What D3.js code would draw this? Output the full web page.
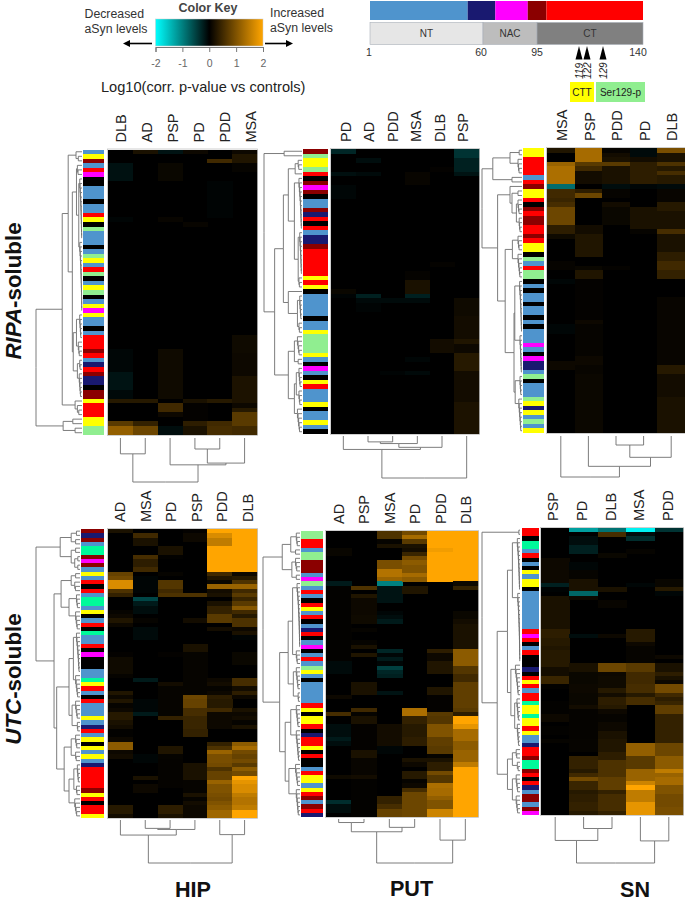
<!DOCTYPE html>
<html><head><meta charset="utf-8">
<script src="https://cdn.jsdelivr.net/npm/d3@7"></script>
<style>html,body{margin:0;padding:0;background:#fff}svg{display:block}text{font-family:"Liberation Sans",Arial,sans-serif}</style>
</head><body><svg id="c" width="685" height="902"></svg>
<script>
// ---------- data ----------
const keyTicks = [-2,-1,0,1,2];
const domainTop = [[1,52,"#4f94cd"],[52,68,"#191970"],[68,89,"#ff00ff"],[89,99,"#8b0000"],[99,140,"#ff0000"]];
const domainBottom = [[1,60,"NT","#e6e6e6"],[60,95,"NAC","#bdbdbd"],[95,140,"CT","#808080"]];
const domainTicks = [1,60,95,140];
const sites = [119,122,129];
const sideColors = {b:"#4f94cd",n:"#191970",m:"#ff00ff",d:"#8b0000",r:"#ff0000",y:"#ffff00",g:"#90ee90",k:"#000000",s:"#00fa9a"};

// sidebar: one category letter per row
const ripaHipSide = "b y d b r m k k b b b k b b r y k g b b b k b g y b r g k b y g k b y m y b b k b r r r d r b n r d n n k d d y r r r y y g g".split(" ");
const ripaPutSide = "d g y y g r k d m d k b b d n r k r b n n d r r r r r r y r y k b b b b b k b b y g g g g y b k m b k y r b b b y k b b y b k".split(" ");
const ripaSnSide  = "y y r r r r b r d y y r k d r d d r r d r y y k g b r g g k b k b b k b b k b k b b b m b k m n n b g k b b b g y n y b g b y".split(" ");
const utcHipSide  = "d n d b s s d m d b y b r k r b s s b y k b r k s b b r k m k k k b b s y r b k r b b b y b n r b y k y b y b n r r r r r d y r k r r y".split(" ");
const utcPutSide  = "g g r r b g g d d d b m g b r b k r y b r k b n r k b m k b r b g y b k b b b b b r y k y y r k n r r y k r k k b r y y b y r d b d r n".split(" ");
const utcSnSide   = "r r k s s b r k b k y b y y k b b b b b b b b b r m r k b r k k k n k r y r b r r s y y s y y r y b b n r r d s s d r k r n b d d b d m".split(" ");

// heat values: one list per column, entries [firstRow, lastRow, value]; rows not listed are 0
const ripaHipCols = ["DLB","AD","PSP","PD","PDD","MSA"];
const ripaHipVals = [
 [[3,6,-.13],[15,15,-.04],[44,49,-.05],[49,52,-.15],[53,54,-.07],[55,55,.3],[60,60,.7],[61,62,1.15]],
 [[0,0,.2],[55,55,.3],[60,60,.4],[61,62,.85]],
 [[0,0,-.15],[3,6,.08],[15,15,.06],[44,54,.12],[56,57,.5],[58,58,.1],[61,62,-.1]],
 [[0,0,.1],[16,16,.06],[56,59,.03],[55,55,.2],[60,60,.35],[61,62,.2]],
 [[2,2,.5],[7,14,-.03],[55,55,.3],[60,60,.5],[61,62,.55]],
 [[0,0,.1],[1,2,.25],[3,4,.05],[41,44,.12],[45,49,.1],[50,55,.22],[56,56,.1],[57,57,.3],[58,60,.7],[61,62,.5]]];
const ripaPutCols = ["PD","AD","PDD","MSA","DLB","PSP"];
const ripaPutVals = [
 [[0,0,-.3],[5,5,-.12],[8,10,-.05],[31,31,.08],[32,32,-.03]],
 [[2,2,-.1],[5,5,-.08],[32,32,-.25],[33,33,-.07],[34,35,-.03]],
 [[33,33,-.08],[49,49,-.03]],
 [[5,7,.06],[27,28,.04],[29,31,.2],[32,32,-.25],[33,33,-.08],[46,46,-.05],[49,49,-.07]],
 [[4,4,.03],[25,25,.04],[42,44,.15]],
 [[0,1,-.4],[2,4,-.25],[5,5,-.15],[33,36,.12],[37,41,.15],[42,42,.25],[43,44,.1],[45,48,.3],[49,55,.15],[56,62,.22]]];
const ripaSnCols = ["MSA","PSP","PDD","PD","DLB"];
const ripaSnVals = [
 [[0,0,.25],[3,3,1.2],[4,7,1.35],[8,8,-.85],[9,10,.5],[11,11,.45],[12,12,.55],[13,16,.85],[17,18,.35],[19,19,.12],[25,26,.05],[29,29,-.05],[39,40,-.05],[47,48,.1]],
 [[0,2,1.3],[3,3,.7],[4,4,.5],[5,7,.15],[9,9,.35],[10,10,.85],[17,18,.15],[19,23,.25],[26,26,.08],[27,28,.25],[29,37,.03],[38,38,.1],[39,45,.05],[46,47,.1],[48,49,.06],[50,62,.09]],
 [[0,0,.05],[1,1,.15],[2,2,.2],[3,3,.7],[4,7,.2],[8,8,-.1],[9,10,.05],[12,12,.15],[13,16,.08],[26,26,.04]],
 [[0,1,-.08],[2,2,.15],[3,7,.35],[8,8,-.05],[13,17,.2],[18,18,.05]],
 [[0,0,.95],[1,2,.2],[3,3,.6],[4,4,.3],[5,5,.55],[6,7,.3],[8,8,-.08],[9,11,.06],[12,13,.3],[14,16,.2],[17,17,.2],[18,18,.55],[19,22,.2],[23,24,.35],[25,26,.5],[27,28,.4],[33,47,.06],[48,49,.3],[50,54,.15],[55,62,.2]]];
const utcHipCols = ["AD","MSA","PD","PSP","PDD","DLB"];
const utcHipVals = [
 [[0,0,.2],[10,10,.8],[11,11,.9],[12,13,1.7],[14,14,.6],[15,15,.4],[19,19,.05],[20,20,.1],[21,21,.25],[22,22,.1],[29,29,.03],[30,33,.12],[34,34,.05],[38,38,.25],[39,39,.1],[40,40,.25],[41,41,.05],[42,42,.1],[43,44,.3],[45,45,.2],[46,46,.15],[47,48,.02],[49,49,.1],[50,51,1.1],[52,52,.1],[53,53,.15],[65,66,.3],[67,67,.15]],
 [[1,1,.5],[2,3,.2],[6,6,.55],[7,8,.35],[9,9,.5],[11,14,-.04],[16,16,-.55],[17,17,-.2],[18,19,-.1],[21,21,.05],[23,25,-.08],[35,35,-.2],[40,42,-.05],[43,43,-.2],[53,54,-.05],[58,58,.2],[60,61,.1]],
 [[4,5,.2],[6,6,.02],[10,10,.05],[12,13,.65],[14,14,.5],[15,15,.6],[29,29,.03],[36,36,.15],[37,43,.05],[44,44,.4],[51,52,.25],[53,53,.05],[54,60,.04],[65,66,.35],[67,67,.2]],
 [[0,0,.03],[1,2,.1],[15,15,.6],[21,21,.15],[27,28,.2],[29,38,.05],[39,39,.85],[40,41,.8],[42,43,.55],[44,46,.45],[47,48,.4],[55,58,.2],[59,61,.05],[62,62,.2],[63,63,.05],[64,64,.15],[65,67,.1]],
 [[0,0,2],[1,1,1.7],[2,3,1.5],[4,9,2],[10,10,.5],[11,11,.25],[12,12,.08],[13,13,1.2],[14,14,.15],[15,15,.2],[17,17,.2],[18,19,.4],[20,21,.7],[23,23,.15],[35,35,.1],[36,36,.15],[37,37,.05],[38,38,.1],[39,39,.35],[40,41,.3],[42,42,.5],[43,46,.1],[50,50,.4],[51,51,.6],[52,52,1.2],[53,54,.95],[55,55,.9],[56,56,.6],[57,58,.8],[59,59,1.2],[60,61,1],[62,62,.95],[63,63,.9],[64,64,1],[65,65,1.1],[66,67,1.25]],
 [[0,9,2],[10,10,.1],[11,11,.3],[12,12,.6],[13,13,1.2],[14,14,.5],[15,15,.7],[16,16,.45],[17,17,.7],[18,18,1.05],[19,19,.5],[20,20,.3],[21,22,.6],[23,23,.1],[24,24,.2],[25,25,-.03],[29,31,.08],[35,36,.55],[37,37,.15],[38,38,.35],[39,39,.1],[42,42,.2],[43,43,.1],[44,44,.15],[45,45,.05],[46,46,.2],[50,50,1.1],[51,51,1.3],[52,52,.9],[53,53,.8],[54,54,.9],[55,55,.7],[56,56,1.1],[57,57,.9],[58,58,2],[59,59,1.8],[60,61,1.7],[62,62,1.5],[63,64,1.4],[65,65,1.5],[66,67,2]]];
const utcPutCols = ["AD","PSP","MSA","PD","PDD","DLB"];
const utcPutVals = [
 [[4,5,.07],[12,12,-.2],[13,30,.02],[31,33,-.08],[39,39,.1],[43,43,.55],[46,48,-.1],[49,49,-.2],[50,50,-.1],[58,58,.12],[64,64,-.35],[65,66,-.1]],
 [[13,13,.6],[15,15,.25],[16,19,.1],[20,21,.12],[23,23,.05],[26,26,.05],[27,27,.2],[29,29,.25],[36,38,.2],[42,42,.5],[43,43,.05],[44,45,.2],[46,51,.03],[52,53,.2],[54,57,.06],[58,58,.15],[59,67,.02]],
 [[0,1,.6],[2,2,.05],[3,3,.2],[7,8,.95],[9,10,1.4],[11,11,1.2],[12,12,-1],[13,16,-.15],[19,19,-.05],[20,20,-.1],[21,21,-.2],[28,28,-.3],[29,29,-.05],[30,30,-.2],[31,31,-.05],[32,32,-.5],[33,33,-.3],[34,34,-.25],[38,38,-.15],[46,50,.15],[51,52,-.05],[63,64,.4],[65,65,.55],[66,67,.8]],
 [[0,0,.9],[1,1,1.3],[2,2,.7],[3,3,.2],[4,4,.15],[5,5,.45],[6,6,.9],[7,7,1.1],[8,9,1],[10,10,1.3],[11,11,1.1],[13,14,.25],[42,43,1.35],[44,45,.4],[46,48,.3],[49,50,.35],[54,54,.2],[55,55,.1],[57,58,.3],[59,59,.05],[60,60,.1],[61,61,.55],[62,67,.85]],
 [[0,3,2],[4,4,1.9],[5,11,2],[28,28,.35],[29,30,.1],[31,33,.25],[37,38,.25],[39,42,.03],[43,43,.7],[44,45,.65],[46,48,1],[49,50,.75],[51,52,.7],[53,53,.05],[54,54,.2],[55,56,.35],[57,57,.9],[58,59,.65],[60,60,1.35],[61,62,1.3],[63,63,1.15],[64,65,1],[66,67,1.6]],
 [[0,11,2],[12,12,.1],[13,13,.4],[19,20,.08],[21,21,.15],[22,27,.2],[28,31,1.1],[32,33,.65],[34,35,.5],[36,41,.75],[42,42,.7],[43,43,.35],[44,45,2],[46,46,1.8],[47,49,1.3],[50,51,1.1],[52,54,1.2],[55,55,1.5],[56,67,2]]];
const utcSnCols = ["PSP","PD","DLB","MSA","PDD"];
const utcSnVals = [
 [[7,12,.1],[13,13,-.25],[14,14,-.02],[16,23,.2],[24,25,.35],[26,27,.3],[28,28,.25],[29,32,.3],[33,34,.15],[35,36,.45],[37,37,.02],[41,43,.02],[44,45,.1],[47,48,.02],[50,50,.05]],
 [[0,0,-1.25],[2,3,-.1],[4,5,-.25],[8,9,-.05],[10,11,.05],[12,14,.2],[15,15,-.8],[16,16,.1],[25,25,-.1],[32,33,.2],[34,36,.08],[37,38,.1],[39,41,.08],[42,42,.15],[43,49,.04],[50,52,.05],[54,56,.4],[57,57,.3],[58,58,.5],[59,59,.9],[60,61,.45],[62,62,.3],[63,64,.35],[65,66,.4],[67,67,.3]],
 [[0,0,-.9],[1,1,.55],[6,6,.08],[14,14,.2],[17,18,.06],[25,25,.1],[32,33,.85],[34,34,.1],[35,37,.12],[38,38,.3],[39,39,.15],[40,41,.35],[42,42,.3],[43,43,.1],[44,45,.05],[46,47,.1],[48,49,.2],[50,52,.25],[53,54,.35],[55,58,.6],[59,61,.75],[62,62,.4],[63,66,.55],[67,67,.4]],
 [[0,0,-1.9],[1,1,-.1],[2,2,-.35],[5,5,.05],[13,13,-.05],[24,26,.3],[27,27,.1],[28,31,.05],[32,33,.7],[34,36,.5],[37,38,.55],[39,39,.3],[40,41,.55],[51,53,1.15],[54,56,.7],[57,59,1.2],[60,60,1.6],[61,61,2],[62,64,1.5],[65,67,1.8]],
 [[0,0,-.4],[12,13,.07],[14,14,.3],[15,15,-.05],[30,30,.1],[32,33,.2],[34,34,.35],[35,35,.2],[36,36,.1],[37,38,.9],[39,39,.5],[40,40,.35],[41,41,.45],[42,43,.75],[44,50,.4],[51,53,.85],[54,56,1.1],[57,57,1.5],[58,58,1.2],[59,60,1.3],[61,62,1],[63,65,.9],[66,67,.95]]];

// dendrograms: [height, child, child...]; a child number n is n adjacent rows, column trees use column indexes as strings
const ripaHipColTree = [1,[.36,"0","1"],[.61,"2",[.57,[.25,"3","4"],"5"]]];
const ripaPutColTree = [1,[.32,"0",[.27,[.18,[.14,"1","2"],"3"],"4"]],"5"];
const ripaSnColTree  = [1,"0",[.74,"1",[.52,[.22,"2","3"],"4"]]];
const utcHipColTree  = [1,[.35,"0",[.22,[.195,"1","2"],"3"]],[.34,"4","5"]];
const utcPutColTree  = [1,[.29,[.08,"0","1"],[.19,"2","3"]],[.48,"4","5"]];
const utcSnColTree   = [1,[.51,"0",[.25,"1","2"]],[.52,"3","4"]];

const ripaHipRowTree = [1,[.43,[.3,[.13,1,[.08,2]],[.21,[.12,[.1,3],[.07,14,16]],[.19,[.12,[.05,6],[.08,4]],[.1,[.05,3],[.06,6]]]]],[.15,1,[.1,1,2]]],[.41,[.2,2],[.15,2]]];
const ripaPutRowTree = [1,[.47,1,1],[.72,[.49,[.36,[.18,[.1,3],1],[.2,[.08,12],[.1,[.06,10],[.08,3]]]],[.36,1,[.12,[.06,6],[.08,3]]]],[.36,[.2,[.12,5],[.1,2]],[.2,[.15,[.08,5],[.08,4]],[.12,6]]]]];
const ripaSnRowTree  = [1,[.73,[.3,2,[.1,4]],[.25,2]],[.61,[.3,1,[.25,[.1,2],[.14,[.1,4],[.07,4]]]],[.42,[.24,[.1,4],[.1,6]],[.2,[.18,[.06,12],[.05,9]],[.17,[.05,5],[.08,8]]]]]];
const utcHipRowTree  = [1,[.45,[.2,[.08,2],[.1,2]],[.2,[.1,2],[.12,[.05,2],[.05,2]]]],[.59,[.43,[.2,[.1,2],[.12,3]],[.25,[.08,4],[.1,5]]],[.53,[.25,[.15,[.08,10],[.1,6]],[.18,[.1,5],[.06,3]]],[.36,[.2,[.1,4],[.1,3]],[.25,[.14,[.06,5],[.08,3]],[.12,5]]]]]];
const utcPutRowTree  = [1,[.48,[.25,[.1,4],[.12,2]],[.22,[.12,4],[.1,2]]],[.55,[.32,[.2,[.08,16],[.1,4]],[.18,[.1,6],[.05,3]]],[.4,[.25,[.1,6],[.1,8]],[.3,[.12,6],[.1,7]]]]];
const utcSnRowTree   = [1,[.03,2],[.6,[.33,[.2,[.07,13],[.06,17]],[.24,[.12,8],[.14,[.08,6],[.07,6]]]],[.33,[.2,[.1,3],[.07,1,2]],[.2,[.1,5],[.1,5]]]]];

// ---------- layout ----------
const panels = [
 {cols:ripaHipCols,vals:ripaHipVals,side:ripaHipSide,colTree:ripaHipColTree,rowTree:ripaHipRowTree,x0:108,x1:257,y0:149.5,y1:435,sx0:83,sx1:104,dx0:36,dx1:82,cy0:438,cy1:482,lx:[126,256]},
 {cols:ripaPutCols,vals:ripaPutVals,side:ripaPutSide,colTree:ripaPutColTree,rowTree:ripaPutRowTree,x0:331,x1:479,y0:149,y1:434,sx0:303,sx1:328,dx0:264,dx1:302,cy0:436,cy1:478,lx:[351,468]},
 {cols:ripaSnCols,vals:ripaSnVals,side:ripaSnSide,colTree:ripaSnColTree,rowTree:ripaSnRowTree,x0:547,x1:685,y0:148,y1:433,sx0:523,sx1:544,dx0:482,dx1:522,cy0:436,cy1:477,lx:[567,677]},
 {cols:utcHipCols,vals:utcHipVals,side:utcHipSide,colTree:utcHipColTree,rowTree:utcHipRowTree,x0:108,x1:257,y0:529,y1:818,sx0:81,sx1:104,dx0:36,dx1:80,cy0:820,cy1:863,lx:[125,253]},
 {cols:utcPutCols,vals:utcPutVals,side:utcPutSide,colTree:utcPutColTree,rowTree:utcPutRowTree,x0:326,x1:478,y0:531,y1:817,sx0:301,sx1:323,dx0:263,dx1:300,cy0:819,cy1:863,lx:[344,471]},
 {cols:utcSnCols,vals:utcSnVals,side:utcSnSide,colTree:utcSnColTree,rowTree:utcSnRowTree,x0:541,x1:683,y0:528,y1:815,sx0:522,sx1:539,dx0:482,dx1:520,cy0:817,cy1:863,lx:[558,673]}
];

const svg = d3.select("#c");
const heatColor = d3.scaleLinear().domain([-2,0,2]).range(["#00ffff","#000000","#ffa500"]);

function comb(n,h){ return n===1 ? 1 : [h,1,comb(n-1,h*.86)]; }
function toNode(t,parentH){
  if(typeof t==="string") return {h:0,col:+t,children:null};
  if(typeof t==="number"){
    if(t===1) return {h:0,children:null};
    return toNode(comb(t,Math.min(parentH*.7,.07)),parentH);
  }
  const h=t[0], kids=t.slice(1);
  if(kids.length===1) return toNode(comb(kids[0],h),parentH);
  return {h,children:kids.map(k=>toNode(k,h))};
}
function elbowPaths(root,leafPos,heightPos,horizontal,g){
  let i=0;
  root.eachAfter(n=>{
    if(!n.children){ n.p = leafPos(n.data.col!==undefined?n.data.col:i); i++; }
    else n.p = d3.mean(n.children,c=>c.p);
  });
  const path=d3.path();
  root.each(n=>{
    if(!n.children) return;
    n.children.forEach(c=>{
      if(horizontal){ path.moveTo(heightPos(c.data.h),c.p); path.lineTo(heightPos(n.data.h),c.p); path.lineTo(heightPos(n.data.h),n.p);}
      else { path.moveTo(c.p,heightPos(c.data.h)); path.lineTo(c.p,heightPos(n.data.h)); path.lineTo(n.p,heightPos(n.data.h)); }
    });
  });
  g.append("path").attr("d",path.toString()).attr("fill","none").attr("stroke","#6e6e6e").attr("stroke-width",.9);
}

panels.forEach(p=>{
  const rows=p.side.length;
  const g=svg.append("g");
  const xS=d3.scaleBand().domain(d3.range(p.cols.length)).range([p.x0,p.x1]);
  const yS=d3.scaleBand().domain(d3.range(rows)).range([p.y0,p.y1]);
  const cells=g.append("g").attr("shape-rendering","crispEdges");
  cells.append("g").selectAll("rect").data(p.cols).join("rect")
    .attr("x",(d,i)=>xS(i)).attr("y",p.y0).attr("width",xS.bandwidth()+.5).attr("height",p.y1-p.y0)
    .attr("fill",heatColor(0));
  p.vals.forEach((col,ci)=>{
    cells.append("g").selectAll("rect").data(col).join("rect")
      .attr("x",xS(ci)).attr("y",d=>yS(d[0])).attr("width",xS.bandwidth()+.5)
      .attr("height",d=>yS(d[1])-yS(d[0])+yS.bandwidth()+.2).attr("fill",d=>heatColor(d[2]));
  });
  g.append("rect").attr("x",p.x0-.5).attr("y",p.y0-.5).attr("width",p.x1-p.x0+1).attr("height",p.y1-p.y0+1)
    .attr("fill","none").attr("stroke","#c4c4c4").attr("stroke-width",.8);
  // sidebar
  g.append("g").attr("shape-rendering","crispEdges").selectAll("rect").data(p.side).join("rect")
    .attr("x",p.sx0).attr("width",p.sx1-p.sx0).attr("y",(d,i)=>yS(i)).attr("height",yS.bandwidth()+.2)
    .attr("fill",d=>sideColors[d]);
  // column labels
  const lS=d3.scalePoint().domain(d3.range(p.cols.length)).range(p.lx);
  g.append("g").selectAll("text").data(p.cols).join("text")
    .attr("transform",(d,i)=>`translate(${lS(i)},${p.y0-7}) rotate(-90)`)
    .attr("font-size",14.5).attr("fill","#222").text(d=>d);
  // row dendrogram
  const rowRoot=d3.hierarchy(toNode(p.rowTree,1));
  const leaves=rowRoot.leaves().length;
  const rowLeaf=d3.scaleLinear().domain([0,leaves]).range([p.y0,p.y1]);
  elbowPaths(rowRoot,i=>rowLeaf(i+.5),d3.scaleLinear().domain([0,1]).range([p.dx1,p.dx0]),true,g);
  // column dendrogram
  const colRoot=d3.hierarchy(toNode(p.colTree,1));
  elbowPaths(colRoot,i=>xS(i)+xS.bandwidth()/2,d3.scaleLinear().domain([0,1]).range([p.cy0,p.cy1]),false,g);
});

// ---------- colour key ----------
const keyX=d3.scaleLinear().domain([-2,2]).range([155.5,263]);
const defs=svg.append("defs");
const grad=defs.append("linearGradient").attr("id","kg");
[-2,0,2].forEach(v=>grad.append("stop").attr("offset",(v+2)/4).attr("stop-color",heatColor(v)));
svg.append("rect").attr("x",155.5).attr("y",19).attr("width",107.5).attr("height",27).attr("fill","url(#kg)").attr("stroke","#ccc").attr("stroke-width",.5);
const keyAxis=svg.append("g").attr("transform","translate(0,47)")
  .call(d3.axisBottom(keyX).tickValues(keyTicks).tickFormat(d=>String(d)).tickSize(5).tickPadding(8));
keyAxis.selectAll("line,path").attr("stroke","#777");
keyAxis.selectAll("text").attr("font-size",10.5).attr("fill","#666").style("font-family",'"Liberation Sans"');
svg.append("text").attr("x",208).attr("y",12).attr("text-anchor","middle").attr("font-size",12.5).attr("font-weight","bold").attr("fill","#444").text("Color Key");
const small=(x,y,t,fs)=>svg.append("text").attr("x",x).attr("y",y).attr("font-size",fs||12.3).attr("fill","#333").text(t);
small(84.5,18,"Decreased"); small(84.5,33,"aSyn  levels");
small(270,17,"Increased"); small(270,32,"aSyn  levels");
svg.append("text").attr("x",101).attr("y",92).attr("font-size",14.6).attr("fill","#222").text("Log10(corr. p-value vs controls)");
function arrow(x0,x1){
  const dir=x1>x0?1:-1;
  svg.append("line").attr("x1",x0).attr("x2",x1-dir*5).attr("y1",43.5).attr("y2",43.5).attr("stroke","#000").attr("stroke-width",1.6);
  svg.append("polygon").attr("points",`${x1},43.5 ${x1-dir*7},40 ${x1-dir*7},47`).attr("fill","#000");
}
arrow(152,123); arrow(265,293);

// ---------- protein domain map ----------
const aa=d3.scaleLinear().domain([1,60,95,140]).range([370,483,537,643]);
svg.append("g").selectAll("rect").data(domainTop).join("rect")
  .attr("x",d=>aa(d[0])).attr("width",d=>aa(d[1])-aa(d[0])).attr("y",1).attr("height",19).attr("fill",d=>d[2]);
svg.append("g").selectAll("rect").data(domainBottom).join("rect")
  .attr("x",d=>aa(d[0])).attr("width",d=>aa(d[1])-aa(d[0])).attr("y",22.5).attr("height",22).attr("fill",d=>d[3]).attr("stroke","#a9b0b8").attr("stroke-width",.6);
svg.append("g").selectAll("text").data(domainBottom).join("text")
  .attr("x",d=>(aa(d[0])+aa(d[1]))/2).attr("y",37).attr("text-anchor","middle").attr("font-size",10).attr("fill","#333").text(d=>d[2]);
svg.append("g").selectAll("text").data(domainTicks).join("text")
  .attr("x",(d,i)=>[369,481,537,638][i]).attr("y",56).attr("text-anchor","middle").attr("font-size",10.5).attr("fill","#333").text(d=>d);
const siteX=d3.scaleLinear().domain([119,122,129]).range([579,587,603]);
svg.append("g").selectAll("polygon").data(sites).join("polygon")
  .attr("points",d=>`${siteX(d)},46 ${siteX(d)-3.5},59.5 ${siteX(d)+3.5},59.5`).attr("fill","#000");
svg.append("g").selectAll("text").data(sites).join("text")
  .attr("transform",d=>`translate(${siteX(d)+3.5},79) rotate(-90)`).attr("font-size",10).attr("font-style","italic").attr("fill","#222").text(d=>d);
svg.append("rect").attr("x",570).attr("y",82).attr("width",24).attr("height",20).attr("fill","#ffff00");
svg.append("rect").attr("x",596).attr("y",82).attr("width",49).attr("height",20).attr("fill","#90ee90");
svg.append("text").attr("x",582).attr("y",96).attr("text-anchor","middle").attr("font-size",10).attr("fill","#222").text("CTT");
svg.append("text").attr("x",620.5).attr("y",96).attr("text-anchor","middle").attr("font-size",10).attr("fill","#222").text("Ser129-p");

// ---------- outer labels ----------
[["HIP",193,897],["PUT",411.5,896],["SN",635,897]].forEach(d=>svg.append("text").attr("x",d[1]).attr("y",d[2]).attr("text-anchor","middle").attr("font-size",21.6).attr("font-weight","bold").attr("fill","#111").text(d[0]));
function sideLabel(cy,it,rest){
  const t=svg.append("text").attr("transform",`translate(20.5,${cy}) rotate(-90)`).attr("text-anchor","middle").attr("font-size",22.3).attr("font-weight","bold").attr("fill","#111");
  t.append("tspan").attr("font-style","italic").text(it);
  t.append("tspan").text(rest);
}
sideLabel(291,"RIPA","-soluble");
sideLabel(679,"UTC","-soluble");
</script></body></html>
